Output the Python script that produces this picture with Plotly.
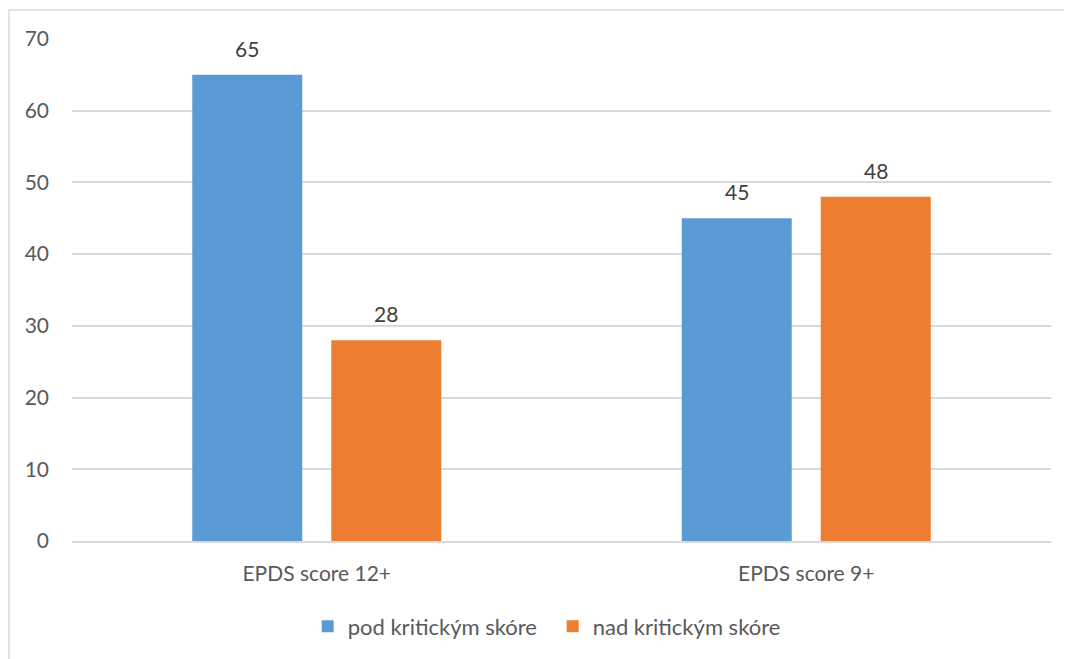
import plotly.graph_objects as go

categories = ["EPDS score 12+", "EPDS score 9+"]
series_names = ["pod kritickým skóre", "nad kritickým skóre"]
pod_values = [65, 45]
nad_values = [28, 48]
y_ticks = [0, 10, 20, 30, 40, 50, 60, 70]

FONT = "Lato"
TXT = "#595959"
LBL = "#404040"
FS = 21

# page body has an 8px margin, so the figure is shifted by 8px
W, H = 1064, 651
L, R, T, B = 64, 21, 31, 116
pw = W - L - R
ph = H - T - B

cat_px = pw / len(categories)
slot_px = 139
bargap = 1 - 2 * slot_px / cat_px
bargroupgap = 29 / slot_px

fig = go.Figure()
fig.add_trace(go.Bar(
    x=categories, y=pod_values, name=series_names[0],
    marker=dict(color="#5B9BD5", line=dict(width=0)),
))
fig.add_trace(go.Bar(
    x=categories, y=nad_values, name=series_names[1],
    marker=dict(color="#ED7D31", line=dict(width=0)),
))

annotations = []
for vals, shift in ((pod_values, -slot_px / 2), (nad_values, slot_px / 2)):
    for c, v in zip(categories, vals):
        annotations.append(dict(
            x=c, y=v, xref="x", yref="y", text=str(v), showarrow=False,
            xshift=shift, yshift=12, yanchor="bottom",
            font=dict(family=FONT, size=FS, color=LBL),
        ))

fig.update_layout(
    width=W, height=H,
    margin=dict(l=L, r=R, t=T, b=B, pad=0),
    paper_bgcolor="white", plot_bgcolor="white",
    barmode="group", bargap=bargap, bargroupgap=bargroupgap,
    font=dict(family=FONT, size=FS, color=TXT),
    showlegend=True,
    legend=dict(orientation="h", x=0.491, xanchor="center", y=-0.17, yanchor="middle",
                font=dict(family=FONT, size=22, color=TXT), itemwidth=30,
                entrywidth=200, entrywidthmode="pixels",
                traceorder="normal"),
    xaxis=dict(showgrid=False, showline=True, linecolor="#d9d9d9", linewidth=1.5,
               ticks="", tickfont=dict(family=FONT, size=FS, color=TXT),
               ticklabelstandoff=13),
    yaxis=dict(range=[0, 70], tickvals=y_ticks, showgrid=True, gridcolor="#d9d9d9",
               gridwidth=1.5, zeroline=False, showline=False, ticks="",
               tickfont=dict(family=FONT, size=FS, color=TXT), ticklabelstandoff=22),
    annotations=annotations,
    shapes=[dict(type="rect", xref="paper", yref="paper",
                 x0=(1 - L) / pw, x1=(W + 20 - L) / pw,
                 y0=(H - B - H - 30) / ph, y1=1 + (T - 2) / ph,
                 line=dict(color="#d9d9d9", width=1.5), fillcolor="rgba(0,0,0,0)",
                 layer="below")],
)

fig.write_html("out.html")
